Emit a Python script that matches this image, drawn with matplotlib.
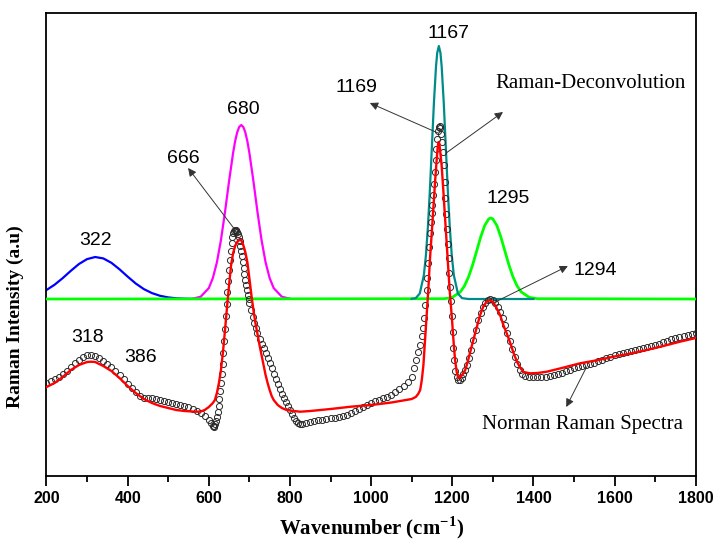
import numpy as np
import matplotlib
matplotlib.use('Agg')
import matplotlib.pyplot as plt

plt.rcParams['mathtext.fontset'] = 'custom'
plt.rcParams['mathtext.rm'] = 'Liberation Serif'
plt.rcParams['mathtext.bf'] = 'Liberation Serif:bold'

# baseline of the deconvolution components
base = 177

# deconvolution components (height above baseline)
blue_x = [200, 220, 240, 260, 280, 300, 320, 340, 360, 380, 400, 420, 440, 460, 480, 500, 520, 540, 560]
blue_h = [9.0, 14.3, 20.9, 28.2, 35.0, 39.9, 42.0, 40.6, 36.2, 29.7, 22.4, 15.5, 9.9, 5.9, 3.2, 1.6, 0.7, 0.3, 0.1]

mag_x = [560, 580, 600, 610, 620, 630, 640, 650, 660, 665, 670, 675, 680, 685, 690, 695, 700, 710, 720, 730,
         740, 750, 760, 780, 800]
mag_h = [0.3, 2.3, 10.9, 20.9, 36.7, 59.0, 87.1, 117.9, 146.3, 157.9, 166.7, 172.1, 174, 172.1, 166.7, 157.9,
         146.3, 117.9, 87.1, 59.0, 36.7, 20.9, 10.9, 2.3, 0.3]

teal_x = [1100, 1110, 1120, 1130, 1135, 1140, 1145, 1150, 1155, 1160, 1163, 1167, 1171, 1174, 1179, 1184, 1189,
          1194, 1199, 1204, 1214, 1224, 1240, 1300, 1400]
teal_h = [0.1, 0.9, 5.5, 23.7, 43.0, 71.7, 109.5, 153.4, 197.2, 232.4, 246.1, 253, 246.1, 232.4, 197.2, 153.4,
          109.5, 71.7, 43.0, 23.7, 5.5, 0.9, 0, 0, 0]

green_x = [200, 1180, 1200, 1220, 1230, 1240, 1250, 1260, 1270, 1280, 1290, 1295, 1300, 1310, 1320, 1330, 1340,
           1350, 1360, 1370, 1390, 1410, 1800]
green_h = [0, 0.3, 1.6, 7.1, 13.0, 21.9, 33.7, 47.7, 61.8, 73.5, 80.1, 81, 80.1, 73.5, 61.8, 47.7, 33.7, 21.9,
           13.0, 7.1, 1.6, 0.3, 0]

# measured spectrum
spec_x = [200, 210, 220, 230, 240, 250, 260, 270, 280, 290, 300, 310, 320, 330, 340, 350, 360, 370, 380, 390,
          400, 410, 420, 430, 440, 450, 460, 470, 480, 490, 500, 510, 520, 530, 540, 550, 560, 570, 580, 590,
          600, 605, 610, 612, 614, 616, 618, 620, 622, 624, 626, 628, 630, 632, 634, 636, 638, 640, 642, 644,
          646, 648, 650, 652, 654, 656, 658, 660, 662, 664, 666, 668, 670, 672, 674, 676, 678, 680, 682, 684,
          686, 688, 690, 692, 694, 696, 698, 700, 704, 708, 712, 716, 720, 725, 730, 735, 740, 745, 750, 755,
          760, 765, 770, 775, 780, 785, 790, 795, 800, 805, 810, 815, 820, 825, 830, 840, 850, 860, 870, 880,
          890, 900, 910, 920, 930, 940, 950, 960, 970, 980, 990, 1000, 1010, 1020, 1030, 1040, 1050, 1060, 1070,
          1080, 1090, 1100, 1105, 1110, 1115, 1120, 1125, 1128, 1131, 1134, 1137, 1139, 1141, 1143, 1145, 1147,
          1149, 1151, 1153, 1155, 1157, 1159, 1161, 1163, 1165, 1167, 1169, 1171, 1173, 1175, 1177, 1179, 1181,
          1183, 1185, 1187, 1189, 1191, 1193, 1195, 1197, 1199, 1201, 1203, 1205, 1208, 1211, 1215, 1219, 1223,
          1227, 1231, 1236, 1241, 1246, 1252, 1258, 1264, 1270, 1276, 1282, 1288, 1294, 1300, 1306, 1312, 1318,
          1324, 1330, 1336, 1342, 1348, 1354, 1360, 1366, 1372, 1380, 1390, 1400, 1410, 1420, 1430, 1440, 1450,
          1460, 1470, 1480, 1490, 1500, 1510, 1520, 1530, 1540, 1550, 1560, 1570, 1580, 1590, 1600, 1610, 1620,
          1630, 1640, 1650, 1660, 1670, 1680, 1690, 1700, 1710, 1720, 1730, 1740, 1750, 1760, 1770, 1780, 1790,
          1800]
spec_y = [93, 95, 97, 99, 102, 105, 109, 113, 116, 119, 121, 121, 120, 118, 115, 112, 109, 105, 101, 97,
          92, 88, 84, 80, 78, 78, 78, 77, 76, 75, 74, 73, 72, 71, 70, 69, 67, 65, 63, 60,
          56, 53, 50, 49, 50, 52, 55, 59, 64, 70, 77, 85, 93, 102, 112, 123, 135, 147, 160, 172,
          184, 195, 206, 216, 225, 233, 239, 243, 245, 246, 246, 245, 244, 242, 239, 235, 230, 225, 220, 214,
          208, 202, 196, 191, 186, 181, 177, 173, 166, 159, 153, 148, 143, 137, 132, 128, 123, 118, 113, 108,
          102, 97, 92, 87, 82, 78, 74, 70, 66, 62, 58, 55, 53, 52, 52, 53, 54, 55, 56, 56,
          57, 58, 58, 59, 60, 61, 63, 65, 67, 69, 71, 73, 75, 76, 78, 79, 81, 84, 87,
          90, 94, 99, 108, 116, 124, 131, 140, 148, 158, 171, 186, 198, 213, 229, 243, 254,
          263, 271, 281, 292, 304, 316, 327, 337, 345, 349, 350, 348, 342, 334, 324, 311, 294,
          278, 262, 247, 232, 218, 203, 189, 175, 160, 144, 128, 116, 105, 99, 96, 96, 98,
          102, 106, 111, 118, 126, 136, 146, 156, 163, 169, 173, 176, 177, 176, 173, 169, 164,
          158, 151, 143, 135, 127, 119, 112, 106, 102, 100, 99, 99, 99, 99, 99.5, 100, 101,
          102, 103.5, 105, 106.5, 108, 109, 110, 111, 112, 113.5, 115, 116.5, 118, 119.5, 121, 122, 123,
          124, 125, 126, 127, 128, 129, 130, 131, 132.5, 134, 135.5, 137, 138, 139, 140, 141, 142,
          143]

# fitted curve
fit_x = [200, 220, 240, 260, 280, 300, 310, 320, 340, 360, 380, 400, 420, 440, 460, 480, 500, 520, 540, 560,
         570, 580, 590, 600, 610, 615, 620, 625, 630, 635, 640, 645, 650, 655, 660, 665, 670, 675, 680, 685,
         690, 695, 700, 705, 710, 715, 720, 725, 730, 735, 740, 745, 750, 755, 760, 770, 780, 792, 810, 825,
         850, 900, 950, 1000, 1050, 1100, 1110, 1116, 1121, 1125, 1129, 1133, 1137, 1141, 1145, 1150, 1154,
         1158, 1162, 1164, 1166, 1168, 1170, 1174, 1178, 1182, 1186, 1190, 1194, 1199, 1203, 1207, 1211, 1215,
         1220, 1226, 1232, 1238, 1245, 1252, 1260, 1268, 1276, 1284, 1293, 1300, 1308, 1318, 1326, 1334, 1343,
         1352, 1360, 1368, 1376, 1392, 1410, 1433, 1470, 1515, 1560, 1597, 1640, 1679, 1720, 1761, 1800]
fit_y = [89, 93, 99, 106, 111, 114, 114.3, 114, 110, 105, 98, 90, 83, 77, 73, 70, 68, 66, 65, 64.5,
         64.3, 64.5, 66, 69, 73, 76, 83, 93, 106, 124, 146, 169, 191, 211, 223, 230, 234, 236, 236, 231,
         224, 214, 198, 181, 166, 153, 142, 131, 121, 111, 101, 93, 86, 80, 76, 71, 68, 66, 65, 64.3,
         65, 67, 69.3, 71, 73.5, 77, 79, 82, 86, 96, 111, 136, 161, 186, 216, 246, 271,
         296, 318, 328, 334, 333, 326, 310, 286, 260, 235, 209, 184, 159, 136, 116, 104, 98,
         99, 102, 106, 114, 125, 136, 148, 160, 169, 174, 176, 174, 169, 161, 151, 143, 133,
         122, 114, 108, 104, 102.7, 103, 104.3, 108, 112.7, 116, 119.3, 122.5, 126, 130, 134.3, 138]

tick_vals = [200, 400, 600, 800, 1000, 1200, 1400, 1600, 1800]

fig = plt.figure(figsize=(7.13, 5.4), dpi=100)
ax = fig.add_axes([0.0652, 0.1185, 0.9105, 0.8574])

ax.plot(blue_x, np.array(blue_h) + base, color='#0000ff', lw=1.6, zorder=2)
ax.plot(mag_x, np.array(mag_h) + base, color='#ff00ff', lw=1.6, zorder=2)
ax.plot(green_x, np.array(green_h) + base, color='#00ff00', lw=2.0, zorder=3)
ax.plot(teal_x, np.array(teal_h) + base, color='#008b8b', lw=1.6, zorder=3)

ax.plot(spec_x, spec_y, 'o', mfc='none', mec='#2a2a2a', mew=0.7, ms=4.4, zorder=4)
ax.plot(fit_x, fit_y, color='#ff0000', lw=1.7, zorder=5)

ax.set_xlim(200, 1800)
ax.set_ylim(0, 463)
ax.set_xticks(tick_vals)
ax.set_xticks([300, 500, 700, 900, 1100, 1300, 1500, 1700], minor=True)
ax.set_yticks([])
ax.tick_params(axis='x', which='major', direction='out', length=7, width=1.3, pad=4)
ax.tick_params(axis='x', which='minor', direction='out', length=4, width=1.3)
for lab in ax.get_xticklabels():
    lab.set_fontfamily('Liberation Sans')
    lab.set_fontweight('bold')
    lab.set_fontsize(11.5)
for sp in ax.spines.values():
    sp.set_linewidth(1.3)

ax.set_xlabel(r'Wavenumber (cm$^{\mathbf{-1}}$)', fontfamily='Liberation Serif', fontweight='bold',
              fontsize=15, labelpad=6)
ax.set_ylabel('Raman Intensity (a.u)', fontfamily='Liberation Serif', fontweight='bold', fontsize=14)
ax.yaxis.set_label_coords(-0.035, 0.345)

num = dict(fontfamily='Liberation Sans', fontsize=14, ha='center', va='center')
ax.text(320, 236, '322', **num)
ax.text(684, 367, '680', **num)
ax.text(536, 318, '666', **num)
ax.text(1190, 443, '1167', **num)
ax.text(965, 389, '1169', **num)
ax.text(1338, 278, '1295', **num)
ax.text(1552, 206, '1294', **num)
ax.text(302, 139, '318', **num)
ax.text(431, 119, '386', **num)

ser = dict(fontfamily='Liberation Serif', fontsize=15, ha='center', va='center')
ax.text(1542, 393, 'Raman-Deconvolution', **ser)
ax.text(1522, 52, 'Norman Raman Spectra', **ser)

arw = dict(arrowstyle='-|>', color='#333333', lw=0.7, mutation_scale=12, shrinkA=0, shrinkB=0)
ax.annotate('', xy=(549, 308), xytext=(665, 246), arrowprops=arw)
ax.annotate('', xy=(997, 373), xytext=(1165, 343), arrowprops=arw)
ax.annotate('', xy=(1325, 364), xytext=(1185, 323), arrowprops=arw)
ax.annotate('', xy=(1485, 210), xytext=(1301, 173), arrowprops=arw)
ax.annotate('', xy=(1481, 69), xytext=(1531, 109), arrowprops=arw)

plt.savefig('out.png', dpi=100)
